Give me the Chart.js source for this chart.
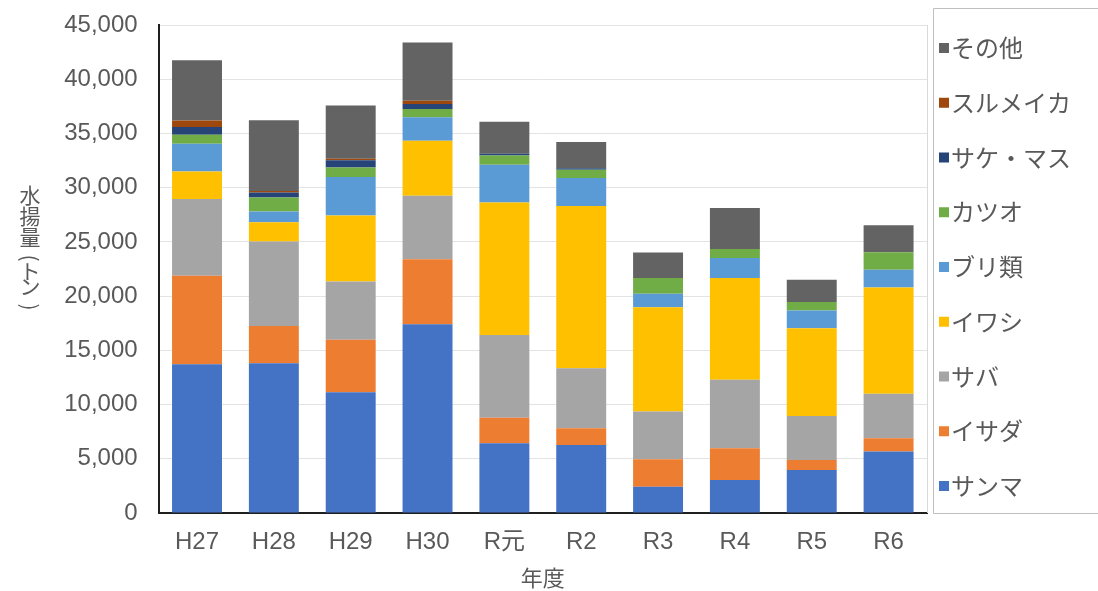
<!DOCTYPE html>
<html lang="ja">
<head>
<meta charset="utf-8">
<title>水揚量の推移</title>
<script src="https://cdn.jsdelivr.net/npm/chart.js@4/dist/chart.umd.min.js"></script>
<style>
  html, body { margin: 0; padding: 0; background: #ffffff; }
  #wrap { position: relative; width: 1098px; height: 591px; }
</style>
</head>
<body>
<div id="wrap"><canvas id="chart" width="1098" height="591"></canvas></div>
<script>
// 年度
const categories = ['H27', 'H28', 'H29', 'H30', 'R元', 'R2', 'R3', 'R4', 'R5', 'R6'];

// 魚種別水揚量（トン）
const sanma   = [13720, 13810, 11140, 17410, 6430, 6270, 2430, 3050, 3970, 5660];
const isada   = [8150, 3440, 4830, 6000, 2360, 1540, 2530, 2930, 920, 1240];
const saba    = [7080, 7780, 5380, 5840, 7630, 5540, 4390, 6300, 4060, 4090];
const iwashi  = [2550, 1790, 6090, 5080, 12210, 14970, 9630, 9380, 8090, 9810];
const buri    = [2560, 980, 3540, 2160, 3480, 2560, 1230, 1850, 1630, 1640];
const katsuo  = [830, 1290, 890, 770, 860, 770, 1450, 830, 780, 1600];
const sakeMasu = [710, 460, 650, 460, 150, 150, 0, 0, 0, 0];
const surume  = [600, 150, 150, 300, 0, 0, 0, 0, 0, 0];
const sonota  = [5560, 6520, 4900, 5360, 2950, 2400, 2360, 3780, 2060, 2490];

// 軸の目盛
const yTicks = [0, 5000, 10000, 15000, 20000, 25000, 30000, 35000, 40000, 45000];
const yAxisTitle = ['水', '揚', '量', '(', 'ト', 'ン', ')'];
const xAxisTitle = '年度';

const series = [
  { label: 'サンマ',     data: sanma,    color: '#4472C4' },
  { label: 'イサダ',     data: isada,    color: '#ED7D31' },
  { label: 'サバ',       data: saba,     color: '#A5A5A5' },
  { label: 'イワシ',     data: iwashi,   color: '#FFC000' },
  { label: 'ブリ類',     data: buri,     color: '#5B9BD5' },
  { label: 'カツオ',     data: katsuo,   color: '#70AD47' },
  { label: 'サケ・マス', data: sakeMasu, color: '#264478' },
  { label: 'スルメイカ', data: surume,   color: '#9E480E' },
  { label: 'その他',     data: sonota,   color: '#636363' }
];

const TEXT = '#595959';
const NUM_FONT = "'Liberation Sans', 'Noto Sans CJK JP', sans-serif";
const JP_FONT = "'Noto Sans CJK JP', 'Liberation Sans', sans-serif";

// 縦書きの軸タイトルと、枠付きの凡例を描く
const decorations = {
  id: 'decorations',
  afterDraw(chart) {
    const ctx = chart.ctx;
    const area = chart.chartArea;
    ctx.save();

    // プロットエリア右端の線
    ctx.strokeStyle = '#D9D9D9';
    ctx.lineWidth = 1;
    ctx.beginPath();
    ctx.moveTo(Math.round(area.right) + 0.5, area.top);
    ctx.lineTo(Math.round(area.right) + 0.5, area.bottom);
    ctx.stroke();

    // 縦書きの軸タイトル（括弧は90度回転）
    ctx.fillStyle = TEXT;
    ctx.font = "21px " + JP_FONT;
    ctx.textAlign = 'center';
    ctx.textBaseline = 'middle';
    const tx = 30;
    let ty = 195;
    yAxisTitle.forEach(ch => {
      const isParen = (ch === '(' || ch === ')');
      if (isParen) {
        ctx.save();
        ctx.translate(tx, ty);
        ctx.rotate(Math.PI / 2);
        ctx.fillText(ch, 0, 0);
        ctx.restore();
        ty += 13;
      } else {
        ctx.fillText(ch, tx, ty);
        ty += (ch === 'ト') ? 15 : 21;
      }
    });

    // 凡例
    const boxL = 933.5, boxT = 8.5, boxB = 513.5;
    ctx.strokeStyle = '#BFBFBF';
    ctx.beginPath();
    ctx.moveTo(1100, boxT);
    ctx.lineTo(boxL, boxT);
    ctx.lineTo(boxL, boxB);
    ctx.lineTo(1100, boxB);
    ctx.stroke();

    ctx.font = "24px " + JP_FONT;
    ctx.textAlign = 'left';
    ctx.textBaseline = 'middle';
    const ds = chart.data.datasets.slice().reverse();
    ds.forEach((d, i) => {
      const cy = 48 + i * 54.75;
      ctx.fillStyle = d.backgroundColor;
      ctx.fillRect(939, cy - 5, 10, 10);
      ctx.fillStyle = TEXT;
      ctx.fillText(d.label, 951, cy);
    });
    ctx.restore();
  }
};

new Chart(document.getElementById('chart'), {
  type: 'bar',
  data: {
    labels: categories,
    datasets: series.map(s => ({
      label: s.label,
      data: s.data,
      backgroundColor: s.color,
      borderWidth: 0,
      categoryPercentage: 1.0,
      barPercentage: 0.65
    }))
  },
  options: {
    responsive: false,
    animation: false,
    layout: { padding: { top: 25, right: 171, bottom: 0, left: 0 } },
    plugins: {
      legend: { display: false },
      tooltip: { enabled: false }
    },
    scales: {
      x: {
        stacked: true,
        grid: { display: false, drawTicks: false },
        border: { display: true, color: '#1f1f1f', width: 2 },
        ticks: { color: TEXT, font: { family: NUM_FONT, size: 24 }, padding: 15, maxRotation: 0 },
        title: { display: true, text: xAxisTitle, color: TEXT, font: { family: JP_FONT, size: 22 }, padding: 0 },
        afterFit(scale) {
          scale.height = 78;
          scale.paddingLeft = 0;
          scale.paddingRight = 0;
        }
      },
      y: {
        stacked: true,
        min: 0,
        max: 45000,
        afterBuildTicks(scale) { scale.ticks = yTicks.map(v => ({ value: v })); },
        grid: { color: '#E3E3E3', lineWidth: 1, drawTicks: false },
        border: { display: true, color: '#1f1f1f', width: 2 },
        ticks: {
          color: TEXT,
          font: { family: NUM_FONT, size: 24 },
          padding: 21,
          callback: v => v.toLocaleString('en-US')
        },
        afterFit(scale) {
          scale.width = 158.6;
          scale.paddingTop = 0;
          scale.paddingBottom = 0;
        }
      }
    }
  },
  plugins: [decorations]
});
</script>
</body>
</html>
